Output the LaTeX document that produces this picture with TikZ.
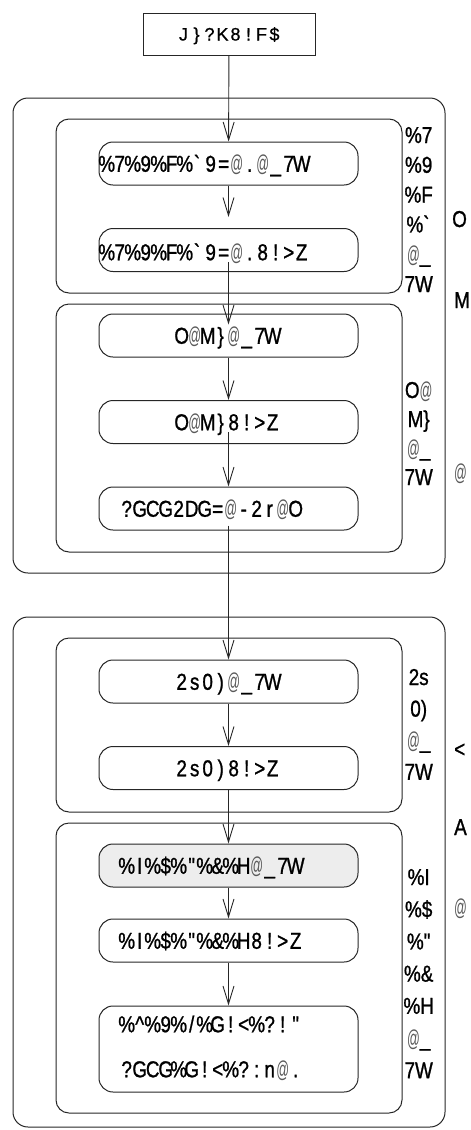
\documentclass[tikz,border=0pt]{standalone}
\usepackage{fontspec}
\usepackage{tikz}
\usetikzlibrary{arrows.meta, positioning}
\newfontfamily\boxfont[FakeStretch=0.82, FakeBold=1]{Liberation Sans}
\newfontfamily\startfont[FakeBold=0.8]{Liberation Sans}
\newfontfamily\atfont[FakeStretch=0.55]{Liberation Sans}

% every character sits in a cell of the same width
\ExplSyntaxOn
\NewDocumentCommand\cells{m}{\tl_map_inline:nn{#1}{\makebox[13pt]{##1}}}
\ExplSyntaxOff
\newcommand{\smallat}{{\atfont\color{black!65}@}}

\begin{document}
\begin{tikzpicture}[x=1pt, y=-1pt,
    frame/.style={draw=black!85, line width=1pt, rounded corners=#1},
    startbox/.style={draw=black!85, line width=1pt, minimum width=172pt, minimum height=42pt, inner sep=0pt,
        text height=13pt, text depth=0pt, font=\startfont\fontsize{18pt}{22pt}\selectfont},
    stepbox/.style={draw=black!85, line width=1pt, rounded corners=14pt, minimum width=259pt, minimum height=43pt, inner sep=0pt},
    txt/.style={anchor=west, inner sep=0pt, text height=16.5pt, text depth=0pt, font=\boxfont\fontsize{23pt}{27pt}\selectfont},
    side/.style={anchor=base west, inner sep=0pt, font=\boxfont\fontsize{23pt}{27pt}\selectfont},
    flow/.style={draw=black!85, line width=0.9pt, -{Straight Barb[length=18pt, width=11pt]}}]
    \useasboundingbox (0,0) rectangle (471,1130);

    % Draw the group frames
    \draw[frame=15pt] (13,98) rectangle (445,573);     % outer 1
    \draw[frame=13pt] (56,119) rectangle (402,293);    % inner 1a
    \draw[frame=13pt] (56,304) rectangle (402,552);    % inner 1b
    \draw[frame=15pt] (13,617) rectangle (445,1127);   % outer 2
    \draw[frame=13pt] (56,638) rectangle (402,812);    % inner 2a
    \draw[frame=13pt] (56,823) rectangle (402,1113);   % inner 2b

    % Start box
    \node[startbox] (start) at (229,34) {\cells{J\}?K8!F\$}};

    % Step boxes
    \node[stepbox] (n1) at (228.5,163.5) {};
    \node[stepbox] (n2) at (228.5,250) {};
    \node[stepbox] (n3) at (228.5,335.5) {};
    \node[stepbox] (n4) at (228.5,422) {};
    \node[stepbox] (n5) at (228.5,508.5) {};
    \node[stepbox] (n6) at (228.5,681.5) {};
    \node[stepbox] (n7) at (228.5,768) {};
    \node[stepbox, fill=black!7] (n8) at (228.5,865.5) {};
    \node[stepbox] (n9) at (228.5,940.5) {};
    \node[stepbox, minimum height=86pt] (n10) at (228.5,1049) {};

    % Texts of the step boxes
    \node[txt] (t1) at (100,163.5) {\cells{\%7\%9\%F\%\textasciigrave9=\smallat.\smallat\_7W}};
    \node[txt] (t2) at (100,252) {\cells{\%7\%9\%F\%\textasciigrave9=\smallat.8!>Z}};
    \node[txt] (t3) at (175,335.5) {\cells{O\smallat M\}\smallat\_7W}};
    \node[txt] (t4) at (175,422) {\cells{O\smallat M\}8!>Z}};
    \node[txt] (t5) at (120,508.5) {\cells{?GCG2DG=\smallat-2r\smallat O}};
    \node[txt] (t6) at (175,681.5) {\cells{2s0)\smallat\_7W}};
    \node[txt] (t7) at (175,768) {\cells{2s0)8!>Z}};
    \node[txt] (t8) at (120,865.5) {\cells{\%I\%\$\%"\%\&\%H\smallat\_7W}};
    \node[txt] (t9) at (120,940.5) {\cells{\%I\%\$\%"\%\&\%H8!>Z}};
    \node[txt] (t10a) at (120,1024) {\cells{\%\textasciicircum\%9\%/\%G!<\%?!"}};
    \node[txt] (t10b) at (120,1069) {\cells{?GCG\%G!<\%?:n\smallat.}};

    % Side labels
    \foreach \lbl [count=\i] in {\%7, \%9, \%F, \%\textasciigrave, \smallat\_, 7W}
        \node[side] (s1-\i) at (412,{143+29.8*(\i-1)}) {\cells{\lbl}};
    \foreach \lbl [count=\i] in {O\smallat, M\}, \smallat\_, 7W}
        \node[side] (s2-\i) at (412,{398+29*(\i-1)}) {\cells{\lbl}};
    \foreach \lbl [count=\i] in {2s, 0), \smallat\_, 7W}
        \node[side] (s3-\i) at (412,{685+31.6*(\i-1)}) {\cells{\lbl}};
    \foreach \lbl [count=\i] in {\%I, \%\$, \%", \%\&, \%H, \smallat\_, 7W}
        \node[side] (s4-\i) at (412,{885+32.2*(\i-1)}) {\cells{\lbl}};

    % Outer labels
    \node[side] (o1) at (452,227) {O};
    \node[side] (o2) at (454,308) {M};
    \node[side] (o3) at (454,480) {\smallat};
    \node[side] (o4) at (454,757) {<};
    \node[side] (o5) at (454,835) {A};
    \node[side] (o6) at (454,915) {\smallat};

    % Draw the flow
    \draw[flow] (start) -- (n1);
    \draw[flow, shorten >=11pt] (n1) -- (n2);
    \draw[flow, shorten <=-10pt, shorten >=-11pt] (n2) -- (n3);
    \draw[flow] (n3) -- (n4);
    \draw[flow, shorten <=-12pt] (n4) -- (n5);
    \draw[flow, shorten <=-5pt] (n5) -- (n6);
    \draw[flow] (n6) -- (n7);
    \draw[flow] (n7) -- (n8);
    \draw[flow] (n8) -- (n9);
    \draw[flow] (n9) -- (n10);
\end{tikzpicture}
\end{document}
